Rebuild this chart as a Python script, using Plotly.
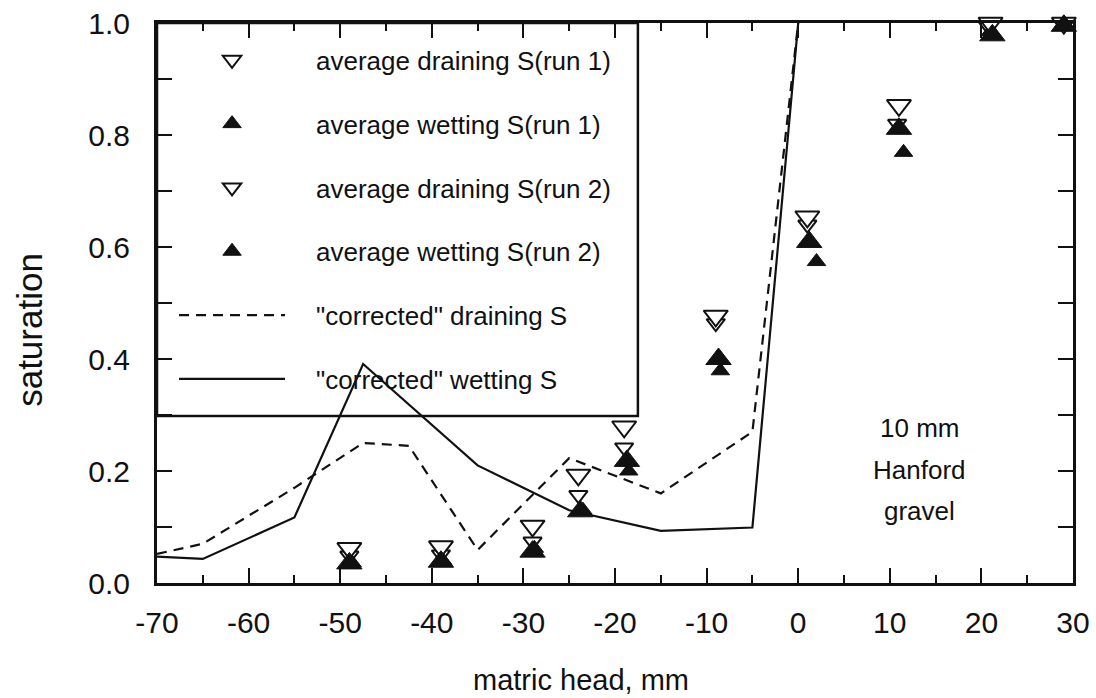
import plotly.graph_objects as go

# ---- data ----
x_run1_drain = [-49, -39, -29, -24, -19, -9, 1, 10.8, 20.7, 29]
y_run1_drain = [0.049, 0.051, 0.074, 0.157, 0.242, 0.464, 0.640, 0.820, 0.995, 1.0]

x_run1_wet = [-48.7, -38.8, -28.8, -23.5, -18.5, -8.5, 2.0, 11.5, 21.0, 29]
y_run1_wet = [0.036, 0.040, 0.062, 0.130, 0.200, 0.379, 0.574, 0.769, 0.985, 1.0]

x_run2_drain = [-49, -39, -29, -24, -19, -9, 1, 11, 21, 29]
y_run2_drain = [0.062, 0.065, 0.102, 0.193, 0.279, 0.477, 0.654, 0.853, 1.0, 1.0]

x_run2_wet = [-49, -39, -29, -23.8, -18.7, -8.7, 1.2, 11, 21.2, 29]
y_run2_wet = [0.035, 0.038, 0.056, 0.128, 0.218, 0.400, 0.609, 0.811, 0.978, 0.995]

x_corr_drain = [-70, -65, -55, -47.5, -42.5, -35, -25, -15, -5, 0]
y_corr_drain = [0.052, 0.070, 0.170, 0.250, 0.245, 0.059, 0.223, 0.160, 0.270, 1.0]

x_corr_wet = [-70, -65, -55, -47.5, -35, -25, -15, -5, 0]
y_corr_wet = [0.047, 0.043, 0.117, 0.391, 0.210, 0.130, 0.093, 0.099, 1.0]

x_ticks = [-70, -60, -50, -40, -30, -20, -10, 0, 10, 20, 30]
x_ticktext = [str(v) for v in x_ticks]
y_ticks = [0.0, 0.2, 0.4, 0.6, 0.8, 1.0]
note_lines = ["10 mm", "Hanford", "gravel"]
note_y = [0.277, 0.202, 0.129]

FONT = "Liberation Sans, Arial, Helvetica, sans-serif"
BLACK = "#111111"
PAD = "\u2002\u2002"  # keeps the legend text clear of the symbol column

fig = go.Figure()

def open_down(x, y, name, size, grp):
    return go.Scatter(x=x, y=y, mode="markers", name=PAD + name, legendgroup=grp,
                      marker=dict(symbol="triangle-down", size=size, color="white",
                                  line=dict(color=BLACK, width=2)),
                      cliponaxis=False)

def filled_up(x, y, name, size, grp):
    return go.Scatter(x=x, y=y, mode="markers", name=PAD + name, legendgroup=grp,
                      marker=dict(symbol="triangle-up", size=size, color=BLACK,
                                  line=dict(color=BLACK, width=1)),
                      cliponaxis=False)

fig.add_trace(open_down(x_run1_drain, y_run1_drain, "average draining S(run 1)", 16, "g1"))
fig.add_trace(filled_up(x_run1_wet, y_run1_wet, "average wetting S(run 1)", 16, "g2"))
fig.add_trace(open_down(x_run2_drain, y_run2_drain, "average draining S(run 2)", 21, "g3"))
fig.add_trace(filled_up(x_run2_wet, y_run2_wet, "average wetting S(run 2)", 22, "g4"))
fig.add_trace(go.Scatter(x=x_corr_drain, y=y_corr_drain, mode="lines",
                         name=PAD + '"corrected" draining S', legendgroup="g5",
                         line=dict(color=BLACK, width=2.2, dash="10px,7px")))
fig.add_trace(go.Scatter(x=x_corr_wet, y=y_corr_wet, mode="lines",
                         name=PAD + '"corrected" wetting S', legendgroup="g6",
                         line=dict(color=BLACK, width=2.2)))

for t, yy in zip(note_lines, note_y):
    fig.add_annotation(x=13.2, y=yy, xref="x", yref="y",
                       text=t, showarrow=False,
                       font=dict(size=26, color=BLACK, family=FONT))

# axis titles (placed as in the reference)
fig.add_annotation(x=0.463, y=-0.173, xref="paper", yref="paper",
                   text="matric head, mm", showarrow=False, yanchor="middle",
                   font=dict(size=29, color=BLACK, family=FONT))
fig.add_annotation(x=-0.1387, y=0.452, xref="paper", yref="paper",
                   text="saturation", showarrow=False, textangle=-90,
                   xanchor="center", yanchor="middle",
                   font=dict(size=35, color=BLACK, family=FONT))

# legend frame (top-left box)
fig.add_shape(type="rect", xref="paper", yref="paper", x0=0, x1=0.525, y0=0.298, y1=1,
              line=dict(color=BLACK, width=2.5), fillcolor="rgba(0,0,0,0)", layer="above")

axis_common = dict(showline=True, linecolor=BLACK, linewidth=3, mirror="allticks",
                   ticks="inside", tickcolor=BLACK, tickwidth=2,
                   showgrid=False, zeroline=False, automargin=False,
                   tickfont=dict(size=30, color=BLACK, family=FONT))

fig.update_xaxes(range=[-70, 30], tickvals=x_ticks, ticktext=x_ticktext, ticklen=15,
                 minor=dict(dtick=5, ticklen=8, tickwidth=2, tickcolor=BLACK, ticks="inside"),
                 ticklabelstandoff=11, **axis_common)
fig.update_yaxes(range=[0, 1], tickvals=y_ticks, tickformat=".1f", ticklen=15,
                 minor=dict(dtick=0.1, ticklen=15, tickwidth=2, tickcolor=BLACK, ticks="inside"),
                 ticklabelstandoff=18, **axis_common)

fig.update_layout(
    width=1096, height=698,
    margin=dict(l=157, r=23, t=23, b=115, autoexpand=False),
    paper_bgcolor="white", plot_bgcolor="white",
    font=dict(family=FONT, color=BLACK),
    showlegend=True,
    legend=dict(x=0.0186, y=0.976, xanchor="left", yanchor="top",
                bgcolor="rgba(0,0,0,0)", borderwidth=0,
                traceorder="grouped", tracegroupgap=27, itemwidth=106,
                font=dict(size=26, color=BLACK, family=FONT)),
)

fig.write_html("out.html")
